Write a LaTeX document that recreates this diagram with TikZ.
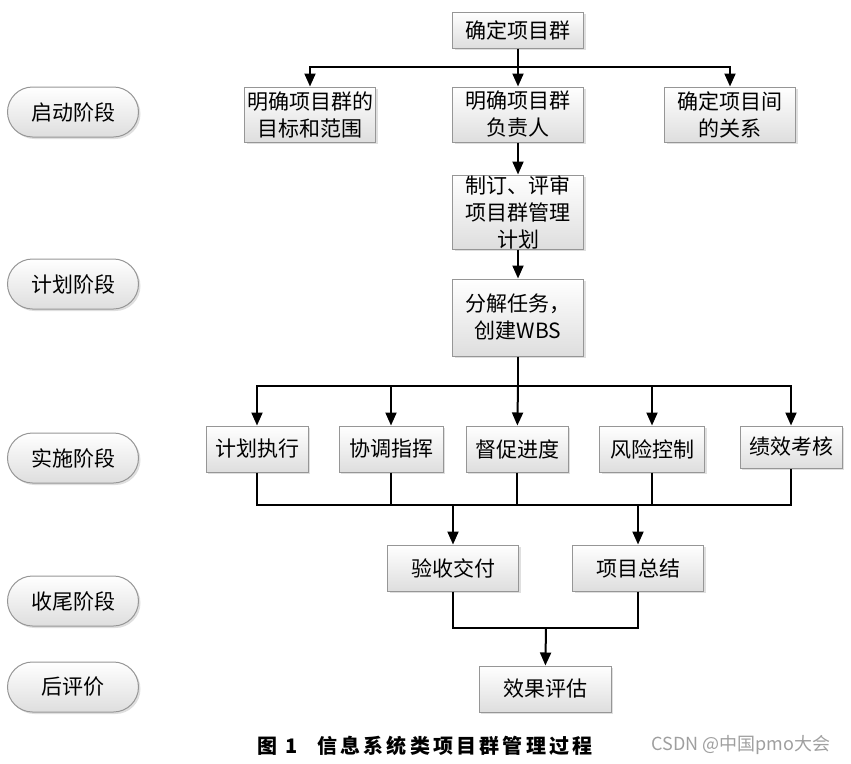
\documentclass[tikz,border=0pt]{standalone}
\usepackage{fontspec}
\newfontfamily\cjk{Noto Sans CJK SC}
\newfontfamily\capfont[LetterSpace=16]{Noto Sans CJK SC}
\usetikzlibrary{arrows.meta, shapes.misc, shadows}
\definecolor{boxline}{RGB}{150, 150, 150}
\definecolor{boxbot}{RGB}{222, 222, 222}

\tikzset{
  base/.style={draw=boxline, line width=1pt, top color=white, bottom color=boxbot,
    drop shadow={shadow xshift=2pt, shadow yshift=-2pt, opacity=0.25},
    inner sep=0pt, align=center, font=\cjk\fontsize{21}{27}\selectfont},
  box/.style={base, rectangle, minimum width=131pt, minimum height=46pt},
  phase/.style={base, rounded rectangle, minimum width=131pt, minimum height=50pt},
  arr/.style={line width=2pt, -{Triangle[length=13pt, width=11pt]}},
  wire/.style={line width=2pt}
}

\begin{document}
\begin{tikzpicture}[x=1pt, y=-1pt]

 \useasboundingbox (0,0) rectangle (851,763);

 % phases
 \node[phase] (p1) at (73,112) {启动阶段};
 \node[phase] (p2) at (73,284) {计划阶段};
 \node[phase] (p3) at (73,458) {实施阶段};
 \node[phase] (p4) at (73,601) {收尾阶段};
 \node[phase] (p5) at (73,687) {后评价};

 \node[box, minimum height=36pt] (start) at (518,30) {确定项目群};
 \node[box, minimum height=55pt] (goal) at (310,114.5) {明确项目群的\\目标和范围};
 \node[box, minimum height=55pt] (lead) at (518,114.5) {明确项目群\\负责人};
 \node[box, minimum height=55pt] (rel) at (730,114.5) {确定项目间\\的关系};
 \node[box, minimum height=74pt] (plan) at (518,212) {制订、评审\\项目群管理\\计划};
 \node[box, minimum height=77pt] (wbs) at (518,317.5) {分解任务，\\创建WBS};

 \node[box, minimum width=102pt] (exec) at (257,449) {计划执行};
 \node[box, minimum width=104pt] (coord) at (391,449) {协调指挥};
 \node[box, minimum width=102pt] (urge) at (517,449) {督促进度};
 \node[box, minimum width=105pt] (risk) at (652,449) {风险控制};
 \node[box, minimum width=102pt, minimum height=42pt] (perf) at (791,447) {绩效考核};

 \node[box] (accept) at (453,568) {验收交付};
 \node[box] (summ) at (638,568) {项目总结};
 \node[box, minimum width=132pt] (eval) at (545,689) {效果评估};

 \coordinate (fork1) at (518,67);
 \coordinate (fork2) at (518,386);
 \coordinate (m1) at (453,505);
 \coordinate (m2) at (638,505);
 \coordinate (m3) at (546,628);

 \draw[arr] (start) -- (lead);
 \draw[arr] (fork1) -| (goal);
 \draw[arr] (fork1) -| (rel);
 \draw[arr] (lead) -- (plan);
 \draw[arr] (plan) -- (wbs);

 \draw[wire] (wbs) -- (fork2);
 \draw[arr] (fork2) -| (exec);
 \draw[arr] (fork2) -| (coord);
 \draw[arr] (fork2) -- (urge);
 \draw[arr] (fork2) -| (risk);
 \draw[arr] (fork2) -| (perf);

 \draw[wire] (exec) |- (m1) -| (perf);
 \draw[wire] (coord) -- (coord |- m1);
 \draw[wire] (urge) -- (urge |- m1);
 \draw[wire] (risk) -- (risk |- m1);
 \draw[arr] (m1) -- (accept);
 \draw[arr] (m2) -- (summ);

 \draw[wire] (accept) |- (m3) -| (summ);
 \draw[arr] (m3) -- (eval);

 \node[font=\capfont\bfseries\fontsize{20}{22}\selectfont] (cap) at (425,746) {图 1\quad 信息系统类项目群管理过程};
 \node[font=\cjk\fontsize{18}{22}\selectfont, text=gray!75] (mark) at (741,745) {CSDN @中国pmo大会};

\end{tikzpicture}
\end{document}
